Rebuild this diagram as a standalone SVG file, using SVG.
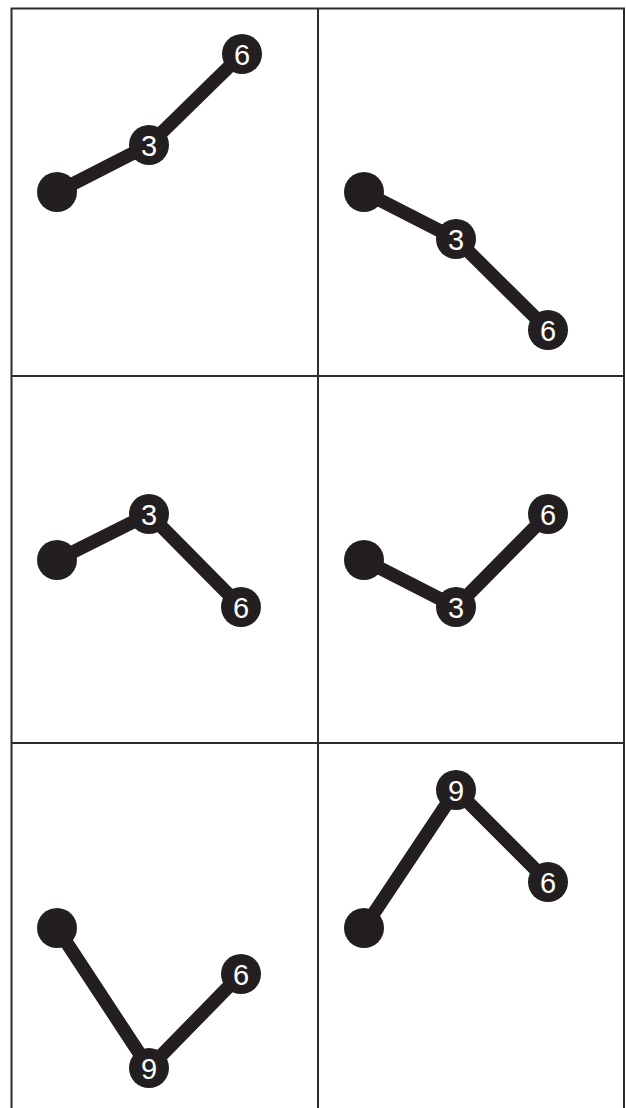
<svg xmlns="http://www.w3.org/2000/svg" width="626" height="1108" viewBox="0 0 626 1108">
<style>
.grid{fill:none;stroke:#2d2b2c;stroke-width:2}
.edge{fill:none;stroke:#231f20;stroke-width:13.5;stroke-linejoin:round}
.dot{fill:#231f20}
.num{fill:#231f20}
.lbl{fill:#ffffff;font-family:"Liberation Sans",Arial,sans-serif;font-size:29px;text-anchor:middle}
</style>
<rect width="626" height="1108" fill="#ffffff"/>
<g id="grid">
<path class="grid" d="M11.5,1110 V8.5 H624 V1110 M318,8.5 V1110 M11.5,376 H624 M11.5,743 H624"/>
</g>
<g id="connectors">
<polyline class="edge" points="57,192 149,145 242,54"/>
<polyline class="edge" points="364,192 456,239 548,330"/>
<polyline class="edge" points="57,560 149,514 241,607"/>
<polyline class="edge" points="364,560 456,607 548,514"/>
<polyline class="edge" points="57,928 149,1068 241,974"/>
<polyline class="edge" points="364,928 456,790 548,882"/>
</g>
<g id="p1-start"><circle class="dot" cx="57" cy="192" r="20"/></g>
<g id="p1-n3"><circle class="num" cx="149" cy="145" r="20"/><text class="lbl" x="149" y="155.5">3</text></g>
<g id="p1-n6"><circle class="num" cx="242" cy="54" r="20"/><text class="lbl" x="242" y="64.5">6</text></g>
<g id="p2-start"><circle class="dot" cx="364" cy="192" r="20"/></g>
<g id="p2-n3"><circle class="num" cx="456" cy="239" r="20"/><text class="lbl" x="456" y="249.5">3</text></g>
<g id="p2-n6"><circle class="num" cx="548" cy="330" r="20"/><text class="lbl" x="548" y="340.5">6</text></g>
<g id="p3-start"><circle class="dot" cx="57" cy="560" r="20"/></g>
<g id="p3-n3"><circle class="num" cx="149" cy="514" r="20"/><text class="lbl" x="149" y="524.5">3</text></g>
<g id="p3-n6"><circle class="num" cx="241" cy="607" r="20"/><text class="lbl" x="241" y="617.5">6</text></g>
<g id="p4-start"><circle class="dot" cx="364" cy="560" r="20"/></g>
<g id="p4-n3"><circle class="num" cx="456" cy="607" r="20"/><text class="lbl" x="456" y="617.5">3</text></g>
<g id="p4-n6"><circle class="num" cx="548" cy="514" r="20"/><text class="lbl" x="548" y="524.5">6</text></g>
<g id="p5-start"><circle class="dot" cx="57" cy="928" r="20"/></g>
<g id="p5-n9"><circle class="num" cx="149" cy="1068" r="20"/><text class="lbl" x="149" y="1078.5">9</text></g>
<g id="p5-n6"><circle class="num" cx="241" cy="974" r="20"/><text class="lbl" x="241" y="984.5">6</text></g>
<g id="p6-start"><circle class="dot" cx="364" cy="928" r="20"/></g>
<g id="p6-n9"><circle class="num" cx="456" cy="790" r="20"/><text class="lbl" x="456" y="800.5">9</text></g>
<g id="p6-n6"><circle class="num" cx="548" cy="882" r="20"/><text class="lbl" x="548" y="892.5">6</text></g>
</svg>
